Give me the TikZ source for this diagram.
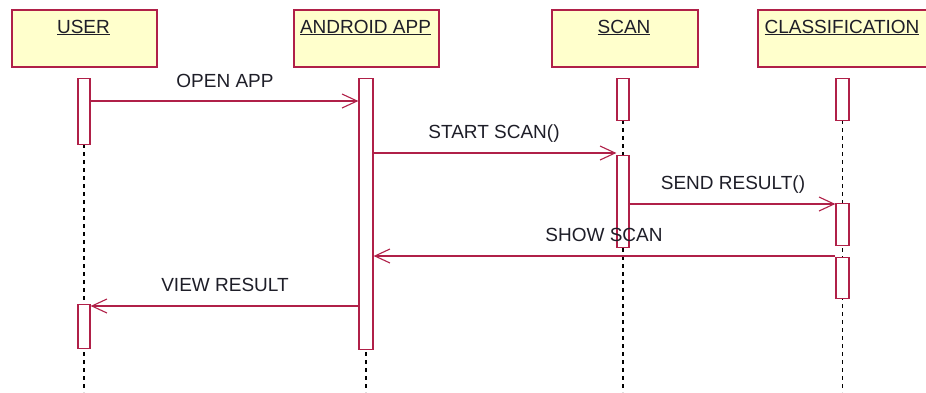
\documentclass[tikz,border=0pt]{standalone}
\usepackage{fontspec}
\setmainfont{Liberation Sans}
\usetikzlibrary{arrows.meta}
\definecolor{umlred}{RGB}{176,32,72}
\definecolor{umlfill}{RGB}{255,255,204}
\definecolor{umltext}{RGB}{30,30,40}
\begin{document}
\begin{tikzpicture}[x=1pt,y=-1pt,
  head/.style={draw=umlred, fill=umlfill, line width=1.6pt, rectangle,
    anchor=north west, inner sep=0pt, minimum height=57pt},
  title/.style={anchor=base, text=umltext, inner sep=0pt,
    font=\fontsize{19}{22}\selectfont},
  act/.style={draw=umlred, fill=white, line width=1.3pt, rectangle,
    anchor=north, inner sep=0pt, minimum width=12pt},
  life/.style={draw=black, line width=1.3pt, dash pattern=on 4pt off 4pt},
  msg/.style={draw=umlred, line width=1.3pt,
    -{Straight Barb[length=15pt,width=14pt,line width=1.1pt]}},
  mlabel/.style={anchor=base, text=umltext, inner sep=0pt,
    font=\fontsize{19}{22}\selectfont}]
\useasboundingbox (0,0) rectangle (926,392);
\clip (0,0) rectangle (926,392);

% object headers
\node[head, minimum width=145pt] (hu) at (11,9) {};
\node[head, minimum width=145pt] (ha) at (293,9) {};
\node[head, minimum width=146pt] (hs) at (551,9) {};
\node[head, minimum width=170pt] (hc) at (757,9) {};
\node[title] (tu) at (83.5,33) {\underline{USER}};
\node[title] (ta) at (365.5,33) {\underline{ANDROID APP}};
\node[title] (ts) at (624,33) {\underline{SCAN}};
\node[title] (tc) at (842,33) {\underline{CLASSIFICATION}};

% lifelines
\draw[life] (84,80) -- (84,392);
\draw[life] (366,80) -- (366,392);
\draw[life] (623,80) -- (623,392);
\draw[life] (842.5,80) -- (842.5,392);

% activation bars
\node[act, minimum height=66pt] (u1) at (84,78) {};
\node[act, minimum height=44pt] (u2) at (84,304) {};
\node[act, minimum width=14pt, minimum height=271pt] (a1) at (366,78) {};
\node[act, minimum height=42pt] (s1) at (623,78) {};
\node[act, minimum height=92pt] (s2) at (623,155) {};
\node[act, minimum width=13pt, minimum height=42pt] (c1) at (842.5,78) {};
\node[act, minimum width=13pt, minimum height=42pt] (c2) at (842.5,203) {};
\node[act, minimum width=13pt, minimum height=41pt] (c3) at (842.5,257) {};

% message heights
\coordinate (m1) at (0,101);
\coordinate (m2) at (0,153);
\coordinate (m3) at (0,204);
\coordinate (m4) at (0,256);
\coordinate (m5) at (0,306);

% messages
\draw[msg] (u1.east |- m1) -- (a1.west |- m1);
\draw[msg] (a1.east |- m2) -- (s2.west |- m2);
\draw[msg] (s2.east |- m3) -- (c2.west |- m3);
\draw[msg] (c3.west |- m4) -- (a1.east |- m4);
\draw[msg] (a1.west |- m5) -- (u2.east |- m5);

% message labels
\node[mlabel] (l1) at (225,87) {OPEN APP};
\node[mlabel] (l2) at (494,138) {START SCAN()};
\node[mlabel] (l3) at (733,189) {SEND RESULT()};
\node[mlabel] (l4) at (604,241) {SHOW SCAN};
\node[mlabel] (l5) at (225,291) {VIEW RESULT};
\end{tikzpicture}
\end{document}
